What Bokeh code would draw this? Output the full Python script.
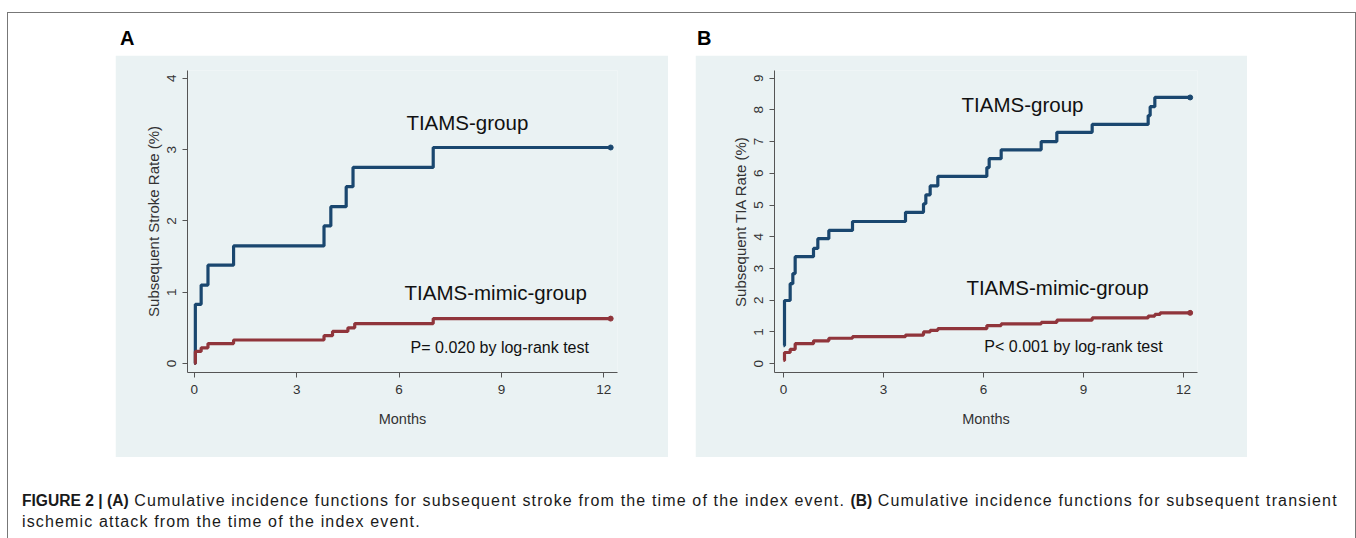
from bokeh.plotting import figure
from bokeh.layouts import column, row
from bokeh.models import Div, Spacer, Range1d, FixedTicker
from bokeh.core.properties import value
from bokeh.embed import file_html
from bokeh.resources import INLINE

# ---------------- data ----------------
x_ticks = [0, 3, 6, 9, 12]
a_y_ticks = [0, 1, 2, 3, 4]
b_y_ticks = [0, 1, 2, 3, 4, 5, 6, 7, 8, 9]

# Panel A: subsequent stroke (%)
a_tiams_t = [0, 0.03, 0.2, 0.4, 1.15, 3.8, 4.0, 4.45, 4.65, 7.0, 12.2]
a_tiams_v = [0, 0.83, 1.1, 1.38, 1.65, 1.93, 2.2, 2.48, 2.75, 3.03, 3.03]
a_mimic_t = [0, 0.03, 0.2, 0.4, 1.15, 3.8, 4.05, 4.5, 4.7, 7.0, 12.2]
a_mimic_v = [0, 0.17, 0.22, 0.28, 0.33, 0.39, 0.45, 0.5, 0.56, 0.63, 0.63]

# Panel B: subsequent TIA (%)
b_tiams_t = [0, 0.03, 0.2, 0.28, 0.35, 0.9, 1.03, 1.36, 2.07, 3.66, 4.2, 4.27,
             4.4, 4.63, 6.1, 6.17, 6.53, 7.73, 8.2, 9.26, 10.94, 11.0, 11.14, 12.2]
b_tiams_v = [0.57, 1.99, 2.52, 2.84, 3.37, 3.63, 3.94, 4.2, 4.48, 4.77, 5.04, 5.32,
             5.6, 5.9, 6.18, 6.46, 6.74, 7.0, 7.29, 7.54, 7.82, 8.1, 8.39, 8.39]
b_mimic_t = [0, 0.03, 0.2, 0.35, 0.9, 1.36, 2.07, 3.66, 4.2, 4.4, 4.63, 6.1,
             6.53, 7.73, 8.2, 9.26, 10.94, 11.14, 11.3, 12.2]
b_mimic_v = [0.1, 0.35, 0.45, 0.63, 0.72, 0.8, 0.85, 0.9, 1.0, 1.05, 1.1, 1.2,
             1.25, 1.3, 1.37, 1.44, 1.5, 1.55, 1.6, 1.6]

a_labels = ["TIAMS-group", "TIAMS-mimic-group"]
a_label_x = [8.0, 8.83]
a_label_y = [3.38, 1.0]
a_p_text = ["P= 0.020 by log-rank test"]
a_p_x = [8.95]
a_p_y = [0.22]

b_labels = ["TIAMS-group", "TIAMS-mimic-group"]
b_label_x = [7.17, 8.22]
b_label_y = [8.17, 2.4]
b_p_text = ["P< 0.001 by log-rank test"]
b_p_x = [8.7]
b_p_y = [0.54]

# ---------------- styles ----------------
BG = "#eaf2f3"
NAVY = "#1a476f"
MAROON = "#90353b"
FONT = "Liberation Sans"
AX = "#555555"


def make_panel(width, xr, yr, bl, br, yticks, ylabel,
               t1, v1, t2, v2, lx, ly, labels, px, py, ptext):
    p = figure(width=width, height=402, x_range=Range1d(*xr), y_range=Range1d(*yr),
               output_backend="svg", toolbar_location=None,
               min_border_left=bl, min_border_right=br,
               min_border_top=15, min_border_bottom=85, margin=0)
    p.background_fill_color = BG
    p.border_fill_color = BG
    p.outline_line_color = None
    p.grid.grid_line_color = None

    for ax in (p.xaxis[0], p.yaxis[0]):
        ax.axis_line_color = AX
        ax.major_tick_line_color = AX
        ax.minor_tick_line_color = None
        ax.major_tick_out = 5
        ax.major_tick_in = 0
        ax.major_label_text_font = FONT
        ax.major_label_text_font_size = "13.5px"
        ax.major_label_text_color = "#333333"
        ax.axis_label_text_font = FONT
        ax.axis_label_text_font_size = "14.5px"
        ax.axis_label_text_font_style = "normal"
        ax.axis_label_text_color = "#333333"

    p.xaxis[0].ticker = FixedTicker(ticks=x_ticks)
    p.xaxis[0].axis_label = "Months"
    p.xaxis[0].major_label_standoff = 7
    p.xaxis[0].axis_label_standoff = 14
    p.yaxis[0].ticker = FixedTicker(ticks=yticks)
    p.yaxis[0].axis_label = ylabel
    p.yaxis[0].axis_label_text_font_size = "15px"
    p.yaxis[0].major_label_standoff = 6
    p.yaxis[0].axis_label_standoff = 3
    p.yaxis[0].major_label_orientation = "vertical"

    p.step(t1, v1, mode="after", line_color=NAVY, line_width=3.2)
    p.step(t2, v2, mode="after", line_color=MAROON, line_width=3.2)
    p.scatter([t1[-1]], [v1[-1]], size=5, color=NAVY)
    p.scatter([t2[-1]], [v2[-1]], size=5, color=MAROON)

    p.text(lx, ly, text=labels, text_font=value(FONT), text_font_size="20.5px",
           text_align="center", text_baseline="middle", text_color="#111111")
    p.text(px, py, text=ptext, text_font=value(FONT), text_font_size="16px",
           text_align="center", text_baseline="middle", text_color="#111111")
    return p


pA = make_panel(553, (-0.2, 12.4), (-0.126, 4.11), 72, 51, a_y_ticks,
                "Subsequent Stroke Rate (%)",
                a_tiams_t, a_tiams_v, a_mimic_t, a_mimic_v,
                a_label_x, a_label_y, a_labels, a_p_x, a_p_y, a_p_text)
pB = make_panel(552, (-0.27, 12.42), (-0.28, 9.24), 79, 50, b_y_ticks,
                "Subsequent TIA Rate (%)",
                b_tiams_t, b_tiams_v, b_mimic_t, b_mimic_v,
                b_label_x, b_label_y, b_labels, b_p_x, b_p_y, b_p_text)

LINE = "#777777"
INNER_W = 1347
INNER_H = 525

labels_div = Div(width=INNER_W, height=42, margin=0, text=(
    '<div style="position:relative;width:1347px;height:42px;'
    'font-family:\'Liberation Sans\',Arial,sans-serif;font-weight:bold;'
    'font-size:20px;line-height:20px;color:#000;">'
    '<span style="position:absolute;left:112px;top:15px;">A</span>'
    '<span style="position:absolute;left:689px;top:15px;">B</span>'
    '</div>'))

caption = Div(width=INNER_W, height=81, margin=0, text=(
    '<div style="padding:33px 0 0 14px;font-family:\'Liberation Sans\',Arial,sans-serif;'
    'font-size:16px;line-height:21px;color:#1a1a1a;white-space:nowrap;letter-spacing:1.15px;">'
    '<b style="font-size:15.6px;letter-spacing:0;">FIGURE 2 | (A)</b> Cumulative incidence '
    'functions for subsequent stroke from the time of the index event. '
    '<b style="font-size:15.6px;letter-spacing:0;">(B)</b> Cumulative incidence functions '
    'for subsequent transient<br>ischemic attack from the time of the index event.</div>'))

panels = row(Spacer(width=107, height=402, margin=0), pA,
             Spacer(width=27, height=402, margin=0), pB,
             Spacer(width=108, height=402, margin=0), spacing=0)
inner = column(labels_div, panels, caption, spacing=0)

left_line = Div(width=1, height=INNER_H, margin=0, styles={"background-color": LINE})
right_line = Div(width=1, height=INNER_H, margin=0, styles={"background-color": LINE})
top_line = Div(width=1349, height=1, margin=0, styles={"background-color": LINE})

framed = column(Spacer(width=1349, height=12, margin=0), top_line,
                row(left_line, inner, right_line, spacing=0), spacing=0)
root = row(Spacer(width=7, height=538, margin=0), framed, spacing=0)

open("out.html", "w").write(file_html(root, INLINE))
